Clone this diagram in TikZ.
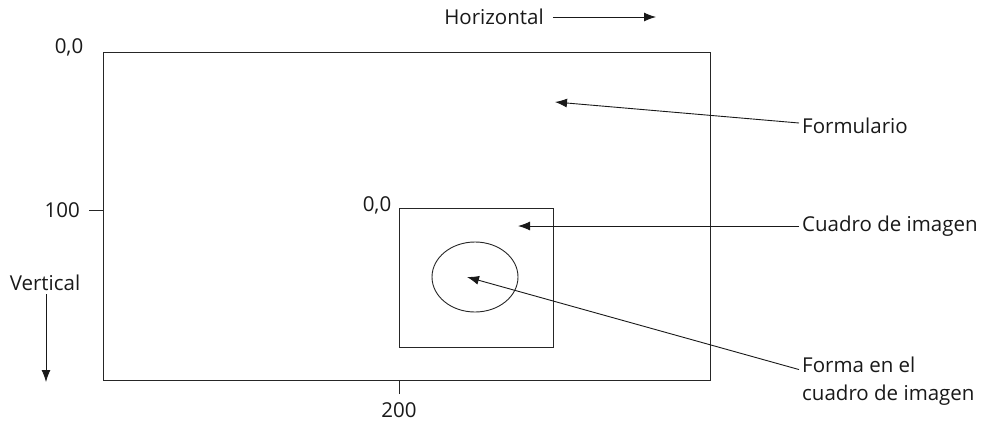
\documentclass[tikz,border=0pt]{standalone}
\usepackage{fontspec}
\setmainfont{Open Sans}
\usetikzlibrary{positioning, arrows.meta}

\begin{document}
\begin{tikzpicture}[
      x=1pt, y=-1pt,
      lbl/.style={inner sep=3pt, text=black!90, font=\fontsize{20.5}{28}\selectfont},
      frame/.style={draw=black!85, line width=0.9pt},
      arr/.style={draw=black!90, line width=0.9pt, -{Latex[length=12pt, width=9pt]}}
    ]
    \useasboundingbox (0,0) rectangle (981,424);

    % Frames
    \draw[frame] (103,52) rectangle (710,380);
    \draw[frame] (399,208) rectangle (553,347);
    \draw[frame] (475,277) ellipse [x radius=43, y radius=35];

    % Ticks
    \coordinate (tickA) at (89,210);
    \coordinate (tickB) at (399,394);
    \draw[frame] (tickA) -- (103,210);
    \draw[frame] (tickB) -- (399,380);

    % Nodes
    \node[lbl] (orig) at (69,47) {0,0};
    \node[lbl, left=6pt of tickA] (cien) {100};
    \node[lbl, below=5pt of tickB] (dos) {200};
    \node[lbl] (orig2) at (377,205) {0,0};
    \node[lbl] (horiz) at (494,17) {Horizontal};
    \node[lbl] (vert) at (45,283) {Vertical};
    \node[lbl, anchor=west] (form) at (799,126) {Formulario};
    \node[lbl, anchor=west] (cuadro) at (799,226) {Cuadro de imagen};
    \node[lbl, anchor=west, align=left] (forma) at (799,381) {Forma en el\\cuadro de imagen};

    \coordinate (hEnd) at (656,17);
    \coordinate (vEnd) at (46,382);
    \coordinate (formTip) at (555,102);
    \coordinate (cuadroTip) at (518,226);
    \coordinate (formaTip) at (467,277);

    % Edges
    \draw[arr] (horiz.east) ++(6,0) -- (hEnd);
    \draw[arr] (vert.south) ++(1,0) -- (vEnd);
    \draw[arr] ([yshift=3pt]form.west) -- (formTip);
    \draw[arr] (cuadro.west) -- (cuadroTip);
    \draw[arr] ([yshift=-16pt]forma.north west) -- (formaTip);
  \end{tikzpicture}
\end{document}
